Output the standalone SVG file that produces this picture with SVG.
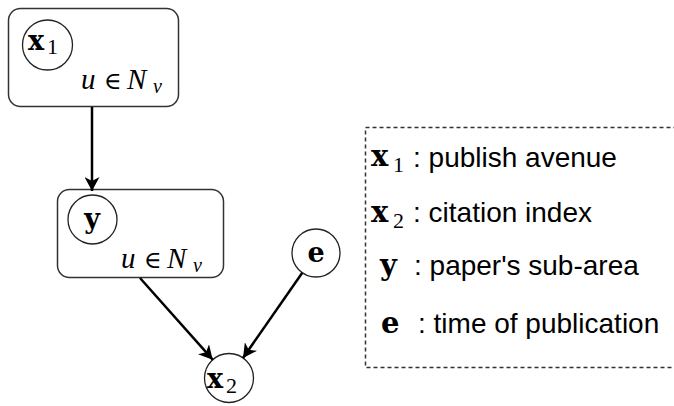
<svg xmlns="http://www.w3.org/2000/svg" width="674" height="406" viewBox="0 0 674 406">
<style>
.box{fill:#fff;stroke:#333;stroke-width:1.5}
.node{fill:#fff;stroke:#222;stroke-width:1.3}
.edge{fill:none;stroke:#000;stroke-width:2.5}
.bf{font-family:"DejaVu Serif",serif;font-weight:bold;font-size:27px;fill:#000}
.bfl{font-family:"DejaVu Serif",serif;font-weight:bold;font-size:29px;fill:#000}
.sub{font-family:"Liberation Serif",serif;font-size:22px;fill:#000}
.it{font-family:"Liberation Serif",serif;font-style:italic;font-size:29px;fill:#000}
.rm{font-family:"DejaVu Serif",serif;font-size:24px;fill:#000}
.isub{font-family:"Liberation Serif",serif;font-style:italic;font-size:20px;fill:#000}
.lab{font-family:"Liberation Sans",Arial,sans-serif;font-size:28px;fill:#000}
</style>
<defs>
<marker id="arr" viewBox="0 0 14 15" refX="14" refY="7.5" markerWidth="14" markerHeight="15" markerUnits="userSpaceOnUse" orient="auto">
<path d="M0,0 L14,7.5 L0,15 L4,7.5 z" fill="#000"/>
</marker>
</defs>
<rect width="674" height="406" fill="#fff"/>
<g id="plate1">
<rect class="box" x="8.5" y="8.5" width="170" height="98" rx="12"/>
<text class="it" x="81" y="89">u</text>
<text class="rm" x="104" y="89">∈</text>
<text class="it" x="127" y="89">N</text>
<text class="isub" x="153" y="93">v</text>
</g>
<g id="plate2">
<rect class="box" x="57.5" y="189.5" width="166" height="88" rx="12"/>
<text class="it" x="121" y="268">u</text>
<text class="rm" x="144" y="268">∈</text>
<text class="it" x="167" y="268">N</text>
<text class="isub" x="193" y="272">v</text>
</g>
<g id="node-x1">
<circle class="node" cx="47.5" cy="45" r="25"/>
<text class="bf" x="28" y="50">x</text>
<text class="sub" x="47" y="54">1</text>
</g>
<g id="node-y">
<circle class="node" cx="92.5" cy="219.5" r="24.5"/>
<text class="bf" x="92" y="228" text-anchor="middle">y</text>
</g>
<g id="node-e">
<circle class="node" cx="316" cy="253" r="24"/>
<text class="bf" x="316" y="262" text-anchor="middle">e</text>
</g>
<g id="node-x2">
<circle class="node" cx="229" cy="378" r="24.5"/>
<text class="bf" x="207" y="388">x</text>
<text class="sub" x="226" y="393">2</text>
</g>
<g id="connectors">
<line class="edge" x1="92" y1="107" x2="92" y2="191" marker-end="url(#arr)"/>
<line class="edge" x1="140" y1="278" x2="212.7" y2="359.7" marker-end="url(#arr)"/>
<line class="edge" x1="302.3" y1="272.7" x2="243" y2="358" marker-end="url(#arr)"/>
</g>
<g id="legend">
<rect x="365.5" y="127.5" width="320" height="240" fill="none" stroke="#333" stroke-width="1.5" stroke-dasharray="4 3"/>
<text class="bfl" x="371" y="166">x</text>
<text class="sub" x="393" y="172">1</text>
<text class="lab" x="413" y="167">: publish avenue</text>
<text class="bfl" x="371" y="222">x</text>
<text class="sub" x="393" y="228">2</text>
<text class="lab" x="413" y="222">: citation index</text>
<text class="bfl" x="380" y="275">y</text>
<text class="lab" x="414" y="275">: paper's sub-area</text>
<text class="bfl" x="381" y="333">e</text>
<text class="lab" x="418" y="333">: time of publication</text>
</g>
</svg>
